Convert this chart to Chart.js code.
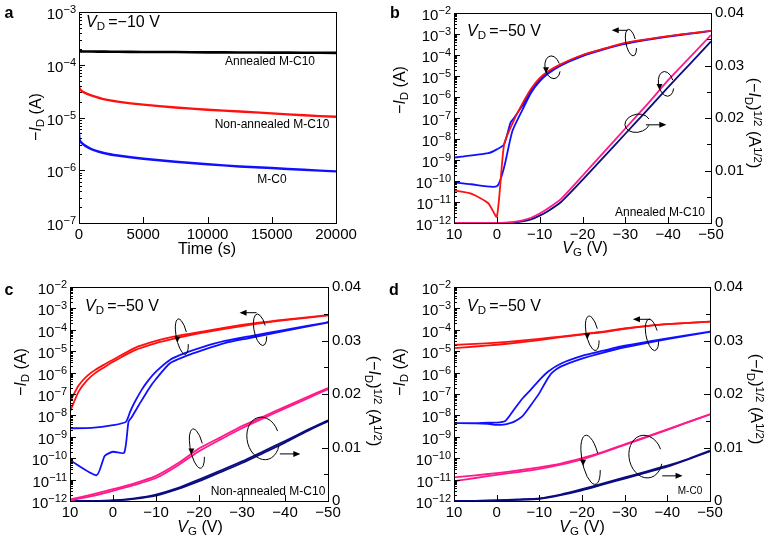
<!DOCTYPE html>
<html>
<head>
<meta charset="utf-8">
<script src="https://cdn.jsdelivr.net/npm/chart.js@4.4.0/dist/chart.umd.min.js"></script>
<style>
body { margin: 0; background: #fff; }
#fig { position: relative; width: 769px; height: 540px; font-family: "Liberation Sans", Arial, sans-serif; color: #000; }
canvas { position: absolute; }
.t { position: absolute; white-space: nowrap; line-height: 1; transform: translate(-50%, -50%); }
.l { position: absolute; white-space: nowrap; line-height: 1; transform: translate(0, -50%); }
.up { transform: translate(-50%, -50%) rotate(-90deg); }
.down { transform: translate(-50%, -50%) rotate(90deg); }
.lbl { font-weight: bold; font-size: 16px; }
.ttl { font-size: 16px; }
.note { font-size: 12px; }
sub { font-size: 72%; vertical-align: -0.3em; }
sup { font-size: 72%; vertical-align: 0.5em; }
</style>
</head>
<body>
<div id="fig">
  <canvas id="ca" width="385" height="270" style="left:0;top:0"></canvas>
  <canvas id="cb" width="384" height="270" style="left:385px;top:0"></canvas>
  <canvas id="cc" width="385" height="270" style="left:0;top:270px"></canvas>
  <canvas id="cd" width="384" height="270" style="left:385px;top:270px"></canvas>

  <div class="t lbl" style="left:9px;top:13px">a</div>
  <div class="t lbl" style="left:395px;top:13px">b</div>
  <div class="t lbl" style="left:9px;top:290px">c</div>
  <div class="t lbl" style="left:394px;top:290px">d</div>

  <div class="l ttl" style="left:86px;top:23px"><i>V</i><sub>D</sub>&thinsp;=−10 V</div>
  <div class="l ttl" style="left:467px;top:32px"><i>V</i><sub>D</sub>&thinsp;=−50 V</div>
  <div class="l ttl" style="left:85px;top:307px"><i>V</i><sub>D</sub>&thinsp;=−50 V</div>
  <div class="l ttl" style="left:467px;top:307px"><i>V</i><sub>D</sub>&thinsp;=−50 V</div>

  <div class="t note" style="left:270px;top:61px">Annealed M-C10</div>
  <div class="t note" style="left:272px;top:124px">Non-annealed M-C10</div>
  <div class="t note" style="left:272px;top:179px">M-C0</div>
  <div class="t note" style="left:660px;top:212px">Annealed M-C10</div>
  <div class="t note" style="left:268px;top:491px">Non-annealed M-C10</div>
  <div class="t note" style="left:690px;top:491px;font-size:10px">M-C0</div>

  <div class="t ttl" style="left:207px;top:249px">Time (s)</div>
  <div class="t ttl" style="left:585px;top:249px"><i>V</i><sub>G</sub> (V)</div>
  <div class="t ttl" style="left:200px;top:528px"><i>V</i><sub>G</sub> (V)</div>
  <div class="t ttl" style="left:582px;top:528px"><i>V</i><sub>G</sub> (V)</div>

  <div class="t ttl up" style="left:37px;top:117px">−<i>I</i><sub>D</sub> (A)</div>
  <div class="t ttl up" style="left:401px;top:90px">−<i>I</i><sub>D</sub> (A)</div>
  <div class="t ttl up" style="left:22px;top:372px">−<i>I</i><sub>D</sub> (A)</div>
  <div class="t ttl up" style="left:401px;top:372px">−<i>I</i><sub>D</sub> (A)</div>

  <div class="t ttl down" style="left:753px;top:123px">(−<i>I</i><sub>D</sub>)<sup>1/2</sup> (A<sup>1/2</sup>)</div>
  <div class="t ttl down" style="left:373px;top:401px">(−<i>I</i><sub>D</sub>)<sup>1/2</sup> (A<sup>1/2</sup>)</div>
  <div class="t ttl down" style="left:755px;top:399px">(−<i>I</i><sub>D</sub>)<sup>1/2</sup> (A<sup>1/2</sup>)</div>
</div>
<script>
// ---- panel a: drain current vs time ----
const timeS = [0, 50, 200, 500, 1000, 2000, 3000, 5000, 7500, 10000, 12500, 15000, 17500, 20000];
const annealedA = [1.80e-4, 1.79e-4, 1.79e-4, 1.78e-4, 1.78e-4, 1.77e-4, 1.76e-4, 1.75e-4, 1.74e-4, 1.72e-4, 1.71e-4, 1.70e-4, 1.69e-4, 1.68e-4];
const nonAnnealedA = [4.1e-5, 3.5e-5, 3.2e-5, 2.9e-5, 2.6e-5, 2.2e-5, 2.0e-5, 1.75e-5, 1.55e-5, 1.4e-5, 1.3e-5, 1.2e-5, 1.1e-5, 1.03e-5];
const mc0A = [5.2e-6, 3.8e-6, 3.3e-6, 2.9e-6, 2.5e-6, 2.1e-6, 1.9e-6, 1.65e-6, 1.45e-6, 1.3e-6, 1.18e-6, 1.1e-6, 1.02e-6, 0.95e-6];

// ---- panel b: annealed M-C10 transfer ----
const bRedVg = [10, 6, 2, 0, -1.7, -4, -6, -8, -10, -12, -15, -20, -25, -30, -40, -50];
const bRedId = [3.5e-11, 2.5e-11, 8.7e-12, 2e-12, 5.6e-9, 8e-8, 5e-7, 2.5e-6, 8e-6, 1.7e-5, 3.7e-5, 1e-4, 2e-4, 3.8e-4, 7.9e-4, 1.4e-3];
const bBlueVg = [10, 2, 0, -1.7, -3.2, -4, -6, -8, -10, -12, -15, -20, -25, -30, -40, -50,
                 -40, -30, -25, -20, -15, -12, -10, -8, -6, -3.6, -1.7, 0, 6, 10];
const bBlueId = [1.3e-9, 2.1e-9, 3.2e-9, 5.6e-9, 6e-8, 1e-7, 4e-7, 2.1e-6, 7e-6, 1.5e-5, 3.5e-5, 9.5e-5, 1.95e-4, 3.6e-4, 7.7e-4, 1.4e-3,
                 7.5e-4, 3.4e-4, 1.85e-4, 8.8e-5, 3.2e-5, 1.3e-5, 5.5e-6, 1.6e-6, 2.5e-7, 2.3e-8, 4.5e-10, 5.6e-11, 7e-11, 8.7e-11];
const bSqVg = [10, 0, -2, -4, -6, -8, -10, -12, -15, -20, -25, -30, -35, -40, -45, -50];
const bPinkSq = [0, 0, 0.00005, 0.0002, 0.0005, 0.001, 0.0018, 0.0028, 0.0046, 0.009, 0.0135, 0.018, 0.0225, 0.0272, 0.0315, 0.0358];
const bNavySq = [0, 0, 0, 0.0001, 0.0003, 0.0007, 0.0014, 0.0023, 0.004, 0.0082, 0.0126, 0.017, 0.0214, 0.0259, 0.0302, 0.0346];

// ---- panel c: non-annealed M-C10 ----
const cRedVg = [10, 8, 6, 4, 2, 0, -5, -10, -15, -20, -30, -40, -50];
const cRedFwd = [1.5e-8, 1.3e-7, 4.5e-7, 1.0e-6, 1.8e-6, 3.2e-6, 1.1e-5, 2.4e-5, 4.2e-5, 6.9e-5, 1.5e-4, 2.8e-4, 4.7e-4];
const cRedRev = [4.4e-8, 2.5e-7, 7e-7, 1.4e-6, 2.4e-6, 4e-6, 1.4e-5, 3e-5, 5.2e-5, 7.8e-5, 1.7e-4, 3e-4, 4.9e-4];
const cBlueVg = [10, 5, 0, -3, -4, -5, -6.7, -8, -10, -13.3, -17, -21, -26, -32, -40, -50,
                 -40, -32, -26, -21, -17, -13.3, -10, -8.2, -6, -4.3, -3.6, -2.6, 0, 1.9, 3.8, 10];
const cBlueId = [2.5e-9, 2.6e-9, 3.5e-9, 5e-9, 1.5e-8, 4e-8, 1.6e-7, 3.8e-7, 1.1e-6, 4e-6, 8.5e-6, 1.6e-5, 3e-5, 5.1e-5, 1e-4, 2.2e-4,
                 9e-5, 4.2e-5, 2.4e-5, 1.15e-5, 6e-6, 2.8e-6, 5e-7, 1.6e-7, 3e-8, 8e-9, 5e-9, 1.8e-10, 2e-10, 1.3e-10, 1.6e-11, 8e-11];
const cSqVg = [10, 5, 0, -5, -10, -15, -20, -25, -30, -35, -40, -45, -50];
const cPinkFwd = [0.0001, 0.0009, 0.0019, 0.0030, 0.0043, 0.0066, 0.0093, 0.0115, 0.0136, 0.0155, 0.0173, 0.0191, 0.0209];
const cPinkRev = [0.0003, 0.0012, 0.0022, 0.0033, 0.0047, 0.0070, 0.0098, 0.0119, 0.0140, 0.0158, 0.0176, 0.0194, 0.0211];
const cNavyFwd = [0, 0, 0.0001, 0.0004, 0.0010, 0.0022, 0.0037, 0.0054, 0.0071, 0.009, 0.0109, 0.013, 0.0149];
const cNavyRev = [0, 0, 0.0001, 0.0005, 0.0012, 0.0024, 0.0040, 0.0057, 0.0074, 0.0093, 0.0112, 0.0132, 0.0151];

// ---- panel d: M-C0 ----
const dRedVg = [10, 5, 0, -5, -10, -15, -20, -25, -30, -35, -40, -50];
const dRedFwd = [1.4e-5, 1.66e-5, 2.0e-5, 2.5e-5, 3.3e-5, 4.5e-5, 6.0e-5, 7.9e-5, 1.12e-4, 1.5e-4, 1.86e-4, 2.4e-4];
const dRedRev = [1.95e-5, 2.2e-5, 2.5e-5, 3.0e-5, 3.8e-5, 4.8e-5, 6.3e-5, 8.3e-5, 1.15e-4, 1.5e-4, 1.86e-4, 2.4e-4];
const dBlueVg = [10, 5, 2, 0, -2, -4, -6, -8, -10, -12, -15, -20, -25, -30, -40, -50,
                 -40, -30, -25, -20, -15, -13, -12, -10, -8, -6, -4, -3, -2, 0, 2, 5, 10];
const dBlueId = [4.4e-9, 4.4e-9, 4.6e-9, 4.6e-9, 5.5e-9, 1.8e-8, 6e-8, 1.6e-7, 4.5e-7, 1.1e-6, 2.6e-6, 6e-6, 1.05e-5, 1.8e-5, 4e-5, 8.1e-5,
                 3.7e-5, 1.5e-5, 8.5e-6, 4.5e-6, 1.9e-6, 1e-6, 5.5e-7, 1.1e-7, 3e-8, 9e-9, 5e-9, 4.3e-9, 3.8e-9, 3.6e-9, 4e-9, 4.3e-9, 4.4e-9];
const dSqVg = [10, 5, 0, -5, -10, -15, -20, -25, -30, -35, -40, -45, -50];
const dPinkFwd = [0.0037, 0.0043, 0.0049, 0.0054, 0.0060, 0.0068, 0.0078, 0.0091, 0.0105, 0.0119, 0.0133, 0.0148, 0.0162];
const dPinkRev = [0.0044, 0.0048, 0.0052, 0.0057, 0.0063, 0.0070, 0.0080, 0.0092, 0.0106, 0.0120, 0.0134, 0.0148, 0.0162];
const dNavyFwd = [0, 0, 0.0001, 0.0002, 0.0004, 0.0011, 0.002, 0.0031, 0.0042, 0.0053, 0.0064, 0.0078, 0.0093];
const dNavyRev = [0, 0, 0.0001, 0.0003, 0.0005, 0.0012, 0.0022, 0.0033, 0.0044, 0.0055, 0.0066, 0.0079, 0.0094];

const RED = '#ff1010', BLUE = '#1010ff', PINK = '#ff1a8c', NAVY = '#0c0c80', BLACK = '#000';
const FAMILY = '"Liberation Sans", Arial, sans-serif';
const FONT = { family: FAMILY, size: 15 };

const pts = (xs, ys) => xs.map((x, i) => ({ x: x, y: ys[i] }));
const minus = v => v < 0 ? '\u2212' + Math.abs(v) : String(v);

function line(data, color, axis, width) {
  return { data: data, borderColor: color, borderWidth: width || 1.8, pointRadius: 0, fill: false, tension: 0.2, yAxisID: axis || 'y' };
}

function xAxis(min, max, step, reverse, h, fmt) {
  return {
    type: 'linear', position: 'bottom', min: min, max: max, reverse: reverse,
    ticks: { color: '#000', font: FONT, padding: 3, maxRotation: 0, autoSkip: false, callback: fmt },
    grid: { display: false, drawTicks: false }, border: { display: false },
    afterBuildTicks: s => { const t = []; for (let v = min; v <= max + 1e-9; v += step) t.push({ value: v }); s.ticks = t; },
    afterFit: s => { s.height = h; }
  };
}

// decade labels are drawn by the frame plugin so the exponent can be raised
function yLog(min, max, w) {
  return {
    type: 'logarithmic', position: 'left', min: min, max: max,
    ticks: { color: '#000', font: FONT, padding: 3, autoSkip: false, callback: () => '' },
    grid: { display: false, drawTicks: false }, border: { display: false },
    afterBuildTicks: s => {
      const t = [];
      for (let e = Math.round(Math.log10(min)); e <= Math.round(Math.log10(max)); e++) t.push({ value: Math.pow(10, e) });
      s.ticks = t;
    },
    afterFit: s => { s.width = w; }
  };
}

function ySqrt(w) {
  return {
    type: 'linear', position: 'right', min: 0, max: 0.04,
    ticks: { color: '#000', font: FONT, padding: 4, autoSkip: false, callback: v => v === 0 ? '0' : v.toFixed(2) },
    grid: { display: false, drawTicks: false }, border: { display: false },
    afterBuildTicks: s => { s.ticks = [0, 0.01, 0.02, 0.03, 0.04].map(v => ({ value: v })); },
    afterFit: s => { s.width = w; }
  };
}

// box round the plot, inward tick marks and the 10^n labels
function frame(steps) {
  return {
    id: 'frame',
    afterDatasetsDraw(chart) {
      const ctx = chart.ctx, a = chart.chartArea;
      ctx.save();
      ctx.strokeStyle = '#000';
      ctx.fillStyle = '#000';
      ctx.lineWidth = 1;
      ctx.strokeRect(Math.round(a.left) + 0.5, Math.round(a.top) + 0.5, Math.round(a.right - a.left), Math.round(a.bottom - a.top));
      ctx.beginPath();
      Object.values(chart.scales).forEach(s => {
        const marks = [];
        if (s.type === 'logarithmic') {
          for (let e = Math.round(Math.log10(s.min)); e < Math.round(Math.log10(s.max)); e++) {
            for (let k = 1; k <= 9; k++) marks.push([k * Math.pow(10, e), k === 1 ? 6 : 3]);
          }
          marks.push([s.max, 6]);
        } else {
          const [st, every] = steps[s.id];
          const n = Math.round((s.max - s.min) / st);
          for (let i = 0; i <= n; i++) marks.push([s.min + i * st, i % every === 0 ? 6 : 4]);
        }
        marks.forEach(([v, len]) => {
          const p = Math.round(s.getPixelForValue(v)) + 0.5;
          if (s.isHorizontal()) { ctx.moveTo(p, a.bottom); ctx.lineTo(p, a.bottom - len); }
          else if (s.position === 'left') { ctx.moveTo(a.left, p); ctx.lineTo(a.left + len, p); }
          else { ctx.moveTo(a.right, p); ctx.lineTo(a.right - len, p); }
        });
        if (s.type === 'logarithmic') {
          ctx.textBaseline = 'alphabetic';
          ctx.textAlign = 'left';
          for (let e = Math.round(Math.log10(s.min)); e <= Math.round(Math.log10(s.max)); e++) {
            const y = s.getPixelForValue(Math.pow(10, e));
            const ex = '\u2212' + Math.abs(e);
            ctx.font = '11px ' + FAMILY;
            const we = ctx.measureText(ex).width;
            ctx.font = '15px ' + FAMILY;
            const wb = ctx.measureText('10').width;
            const xr = a.left - 3;
            ctx.fillText('10', xr - we - wb, y + 7);
            ctx.font = '11px ' + FAMILY;
            ctx.fillText(ex, xr - we, y + 1);
          }
        }
      });
      ctx.stroke();
      ctx.restore();
    }
  };
}

// looped arrows that tell which axis a curve belongs to
function loops(items) {
  return {
    id: 'loops',
    afterDatasetsDraw(chart) {
      const ctx = chart.ctx, xs = chart.scales.x;
      ctx.save();
      ctx.strokeStyle = '#000';
      ctx.fillStyle = '#000';
      ctx.lineWidth = 1;
      items.forEach(n => {
        const ys = chart.scales[n.axis];
        const cx = xs.getPixelForValue(n.x), cy = ys.getPixelForValue(n.y);
        ctx.beginPath();
        ctx.ellipse(cx, cy, n.w / 2, n.h / 2, -0.2, 0.5, Math.PI * 2 - 0.2);
        ctx.stroke();
        if (n.to !== undefined) {
          const y = ys.getPixelForValue(n.ay);
          const x1 = xs.getPixelForValue(n.from), x2 = xs.getPixelForValue(n.to);
          const d = x2 > x1 ? 1 : -1;
          ctx.beginPath(); ctx.moveTo(x1, y); ctx.lineTo(x2, y); ctx.stroke();
          ctx.beginPath(); ctx.moveTo(x2 + d * 2, y); ctx.lineTo(x2 - d * 5, y - 3); ctx.lineTo(x2 - d * 5, y + 3); ctx.closePath(); ctx.fill();
        } else {
          const hx = cx - n.w / 2 + 1, hy = cy + 1;
          ctx.beginPath(); ctx.moveTo(hx, hy + 5); ctx.lineTo(hx - 3, hy - 1); ctx.lineTo(hx + 3, hy - 1); ctx.closePath(); ctx.fill();
        }
      });
      ctx.restore();
    }
  };
}

function build(id, datasets, scales, pad, steps, notes) {
  new Chart(document.getElementById(id), {
    type: 'line',
    data: { datasets: datasets },
    options: {
      responsive: false, animation: false, devicePixelRatio: 1,
      layout: { padding: pad },
      plugins: { legend: { display: false }, tooltip: { enabled: false } },
      scales: scales
    },
    plugins: [frame(steps), loops(notes)]
  });
}

const vgFmt = v => minus(v);

build('ca', [
  line(pts(timeS, annealedA), BLACK, 'y', 2.6),
  line(pts(timeS, nonAnnealedA), RED, 'y', 2.4),
  line(pts(timeS, mc0A), BLUE, 'y', 2.4)
], {
  x: xAxis(0, 20000, 5000, false, 47, v => String(v)),
  y: yLog(1e-7, 1e-3, 79)
}, { left: 0, right: 49, top: 10, bottom: 0 }, { x: [5000, 1] }, []);

build('cb', [
  line(pts(bRedVg, bRedId), RED),
  line(pts(bBlueVg, bBlueId), BLUE),
  line(pts(bSqVg, bPinkSq), PINK, 'y2'),
  line(pts(bSqVg, bNavySq), NAVY, 'y2')
], {
  x: xAxis(-50, 10, 10, true, 47, vgFmt),
  y: yLog(1e-12, 1e-2, 69),
  y2: ySqrt(58)
}, { left: 0, right: 0, top: 10, bottom: 0 }, { x: [10, 1], y2: [0.005, 2] }, [
  { x: -31.3, y: 3.9e-4, axis: 'y', w: 10, h: 27, from: -30.5, to: -27.3, ay: 1.5e-3 },
  { x: -13, y: 2.6e-5, axis: 'y', w: 15, h: 23 },
  { x: -39.5, y: 0.0265, axis: 'y2', w: 15, h: 25 },
  { x: -32.8, y: 0.019, axis: 'y2', w: 25, h: 18, from: -34.8, to: -39.1, ay: 0.0187 }
]);

build('cc', [
  line(pts(cRedVg, cRedFwd), RED),
  line(pts(cRedVg, cRedRev), RED),
  line(pts(cBlueVg, cBlueId), BLUE),
  line(pts(cSqVg, cPinkFwd), PINK, 'y2'),
  line(pts(cSqVg, cPinkRev), PINK, 'y2'),
  line(pts(cSqVg, cNavyFwd), NAVY, 'y2'),
  line(pts(cSqVg, cNavyRev), NAVY, 'y2')
], {
  x: xAxis(-50, 10, 10, true, 39, vgFmt),
  y: yLog(1e-12, 1e-2, 70),
  y2: ySqrt(57)
}, { left: 0, right: 0, top: 17, bottom: 0 }, { x: [10, 1], y2: [0.005, 2] }, [
  { x: -16, y: 4.8e-5, axis: 'y', w: 11, h: 36 },
  { x: -34.2, y: 1e-4, axis: 'y', w: 12, h: 32, from: -33.4, to: -29.9, ay: 6.3e-4 },
  { x: -19.5, y: 0.0098, axis: 'y2', w: 13, h: 40 },
  { x: -34.9, y: 0.0117, axis: 'y2', w: 32, h: 43, from: -38.8, to: -43.1, ay: 0.0088 }
]);

build('cd', [
  line(pts(dRedVg, dRedFwd), RED),
  line(pts(dRedVg, dRedRev), RED),
  line(pts(dBlueVg, dBlueId), BLUE),
  line(pts(dSqVg, dPinkFwd), PINK, 'y2'),
  line(pts(dSqVg, dPinkRev), PINK, 'y2'),
  line(pts(dSqVg, dNavyFwd), NAVY, 'y2'),
  line(pts(dSqVg, dNavyRev), NAVY, 'y2')
], {
  x: xAxis(-50, 10, 10, true, 39, vgFmt),
  y: yLog(1e-12, 1e-2, 69),
  y2: ySqrt(59)
}, { left: 0, right: 0, top: 17, bottom: 0 }, { x: [10, 1], y2: [0.005, 2] }, [
  { x: -22.4, y: 6.9e-5, axis: 'y', w: 12, h: 35 },
  { x: -36.4, y: 5.8e-5, axis: 'y', w: 12, h: 32, from: -36, to: -32.4, ay: 3.1e-4 },
  { x: -22, y: 0.0077, axis: 'y2', w: 17, h: 50 },
  { x: -34.9, y: 0.0083, axis: 'y2', w: 33, h: 43, from: -38.8, to: -43.1, ay: 0.0047 }
]);
</script>
</body>
</html>
